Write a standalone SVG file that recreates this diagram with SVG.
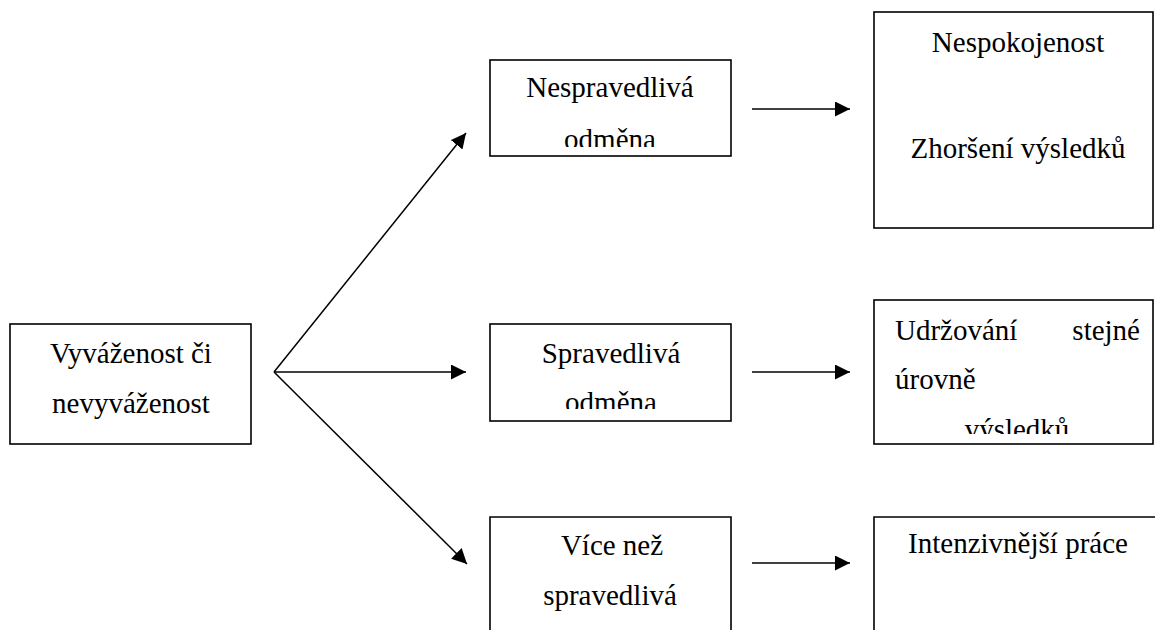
<svg xmlns="http://www.w3.org/2000/svg" width="1155" height="630" viewBox="0 0 1155 630">
<style>
.box{fill:#fff;stroke:#000;stroke-width:1.6}
.t{font-family:"Liberation Serif","Times New Roman",serif;font-size:29px;fill:#000}
.c{text-anchor:middle}
.ln{stroke:#000;stroke-width:1.5;fill:none;marker-end:url(#ah)}
</style>
<defs>
<marker id="ah" markerUnits="userSpaceOnUse" markerWidth="16" markerHeight="16" refX="15" refY="7.5" orient="auto">
<path d="M0,0 L15,7.5 L0,15 z" fill="#000"/>
</marker>
<clipPath id="c1"><rect x="490" y="60" width="241" height="87"/></clipPath>
<clipPath id="c2"><rect x="490" y="324" width="241" height="85"/></clipPath>
<clipPath id="c3"><rect x="874" y="300" width="279" height="134"/></clipPath>
</defs>
<rect width="1155" height="630" fill="#fff"/>
<g id="connectors">
<line class="ln" x1="274" y1="372" x2="466" y2="133"/>
<line class="ln" x1="274" y1="372" x2="466" y2="372"/>
<line class="ln" x1="274" y1="372" x2="467" y2="564"/>
<line class="ln" x1="752" y1="109" x2="850" y2="109"/>
<line class="ln" x1="752" y1="372" x2="850" y2="372"/>
<line class="ln" x1="752" y1="563" x2="850" y2="563"/>
</g>
<g id="n-source">
<rect class="box" x="10" y="324" width="241" height="120"/>
<text class="t c" x="131" y="363">Vyváženost či</text>
<text class="t c" x="131" y="413">nevyváženost</text>
</g>
<g id="n-unfair">
<rect class="box" x="490" y="60" width="241" height="96"/>
<g clip-path="url(#c1)">
<text class="t c" x="610" y="97">Nespravedlivá</text>
<text class="t c" x="610" y="149">odměna</text>
</g>
</g>
<g id="n-fair">
<rect class="box" x="490" y="324" width="241" height="97"/>
<g clip-path="url(#c2)">
<text class="t c" x="611" y="363">Spravedlivá</text>
<text class="t c" x="611" y="412">odměna</text>
</g>
</g>
<g id="n-more">
<path class="box" d="M490,632 L490,517 L731,517 L731,632"/>
<text class="t c" x="612" y="555">Více než</text>
<text class="t c" x="610" y="605">spravedlivá</text>
</g>
<g id="n-dissatisfaction">
<rect class="box" x="874" y="12" width="279" height="216"/>
<text class="t c" x="1018" y="52">Nespokojenost</text>
<text class="t c" x="1018" y="158">Zhoršení výsledků</text>
</g>
<g id="n-maintain">
<rect class="box" x="874" y="300" width="279" height="144"/>
<g clip-path="url(#c3)">
<text class="t" x="895" y="340">Udržování</text>
<text class="t" x="1140" y="340" text-anchor="end">stejné</text>
<text class="t" x="895" y="389">úrovně</text>
<text class="t c" x="1017" y="439">výsledků</text>
</g>
</g>
<g id="n-intensive">
<path class="box" d="M874,632 L874,517 L1170,517"/>
<text class="t c" x="1018" y="553">Intenzivnější práce</text>
</g>
</svg>
